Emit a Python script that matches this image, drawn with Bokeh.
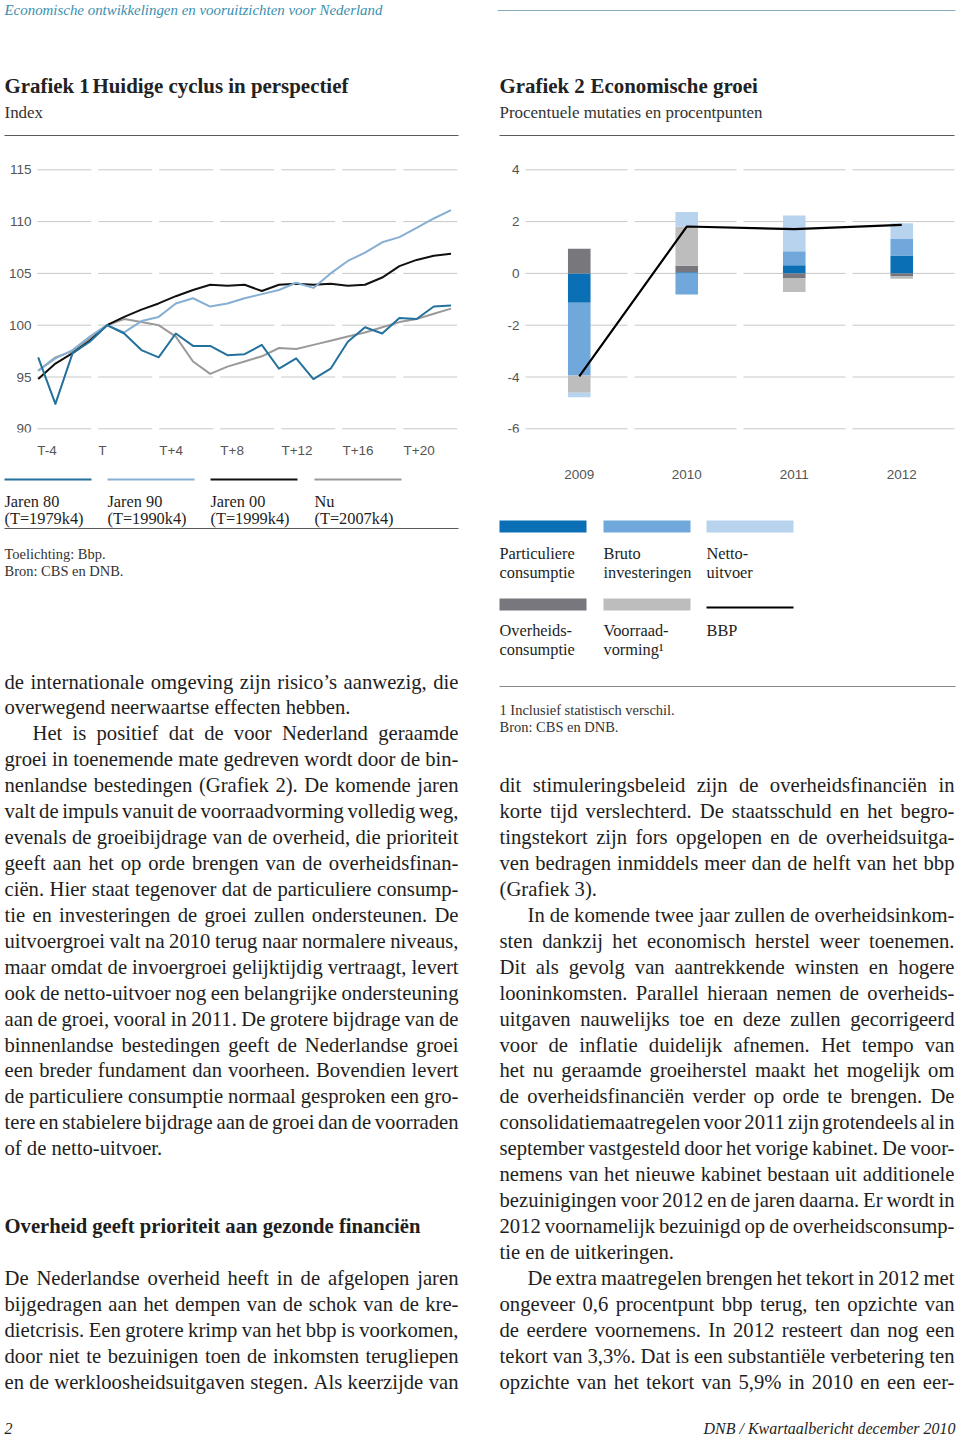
import os
from bokeh.plotting import figure
from bokeh.layouts import row, column
from bokeh.models import Range1d, FixedTicker
from bokeh.core.properties import value
from bokeh.embed import file_html
from bokeh.resources import INLINE

# ---------------------------------------------------------------- data
quarters = list(range(-4, 21))
x_tick_labels_1 = ["T-4", "T", "T+4", "T+8", "T+12", "T+16", "T+20"]
y_ticks_1 = [90, 95, 100, 105, 110, 115]

jaren80 = [96.9, 92.4, 97.3, 98.4, 100.0, 99.2, 97.6, 96.9, 99.2, 98.0, 98.0, 97.1, 97.2,
           98.1, 95.8, 96.8, 94.8, 95.8, 98.4, 99.8, 99.2, 100.7, 100.6, 101.8, 101.9]
jaren90 = [95.6, 96.8, 97.6, 98.9, 100.0, 99.3, 100.4, 100.8, 102.1, 102.6, 101.8, 102.1, 102.6,
           103.0, 103.4, 104.1, 103.6, 105.0, 106.2, 107.0, 108.0, 108.5, 109.4, 110.3, 111.1]
jaren00 = [94.8, 96.3, 97.3, 98.5, 100.0, 100.8, 101.5, 102.1, 102.8, 103.4, 103.9, 103.8, 103.9,
           103.3, 103.9, 104.0, 103.9, 104.0, 103.8, 103.9, 104.6, 105.7, 106.3, 106.7, 106.9]
nu = [95.6, 96.9, 97.5, 98.7, 100.0, 100.6, 100.3, 100.0, 98.9, 96.5, 95.3, 96.0, 96.5,
      97.0, 97.8, 97.7, 98.1, 98.5, 98.9, 99.3, 99.8, 100.3, 100.6, 101.1, 101.6]
series_names_1 = ["Jaren 80", "Jaren 90", "Jaren 00", "Nu"]
series_periods_1 = ["(T=1979k4)", "(T=1990k4)", "(T=1999k4)", "(T=2007k4)"]

years = ["2009", "2010", "2011", "2012"]
part_cons = [-1.13, 0.04, 0.31, 0.69]
bruto_inv = [-2.81, -0.81, 0.55, 0.64]
overh_cons = [0.95, 0.26, -0.18, -0.12]
voorraad = [-0.67, 1.50, -0.54, -0.09]
netto_uitv = [-0.17, 0.57, 1.38, 0.61]
bbp = [-3.98, 1.81, 1.71, 1.87]
y_ticks_2 = [-6, -4, -2, 0, 2, 4]
legend_labels_2 = [["Particuliere", "consumptie"], ["Bruto", "investeringen"], ["Netto-", "uitvoer"],
                   ["Overheids-", "consumptie"], ["Voorraad-", "vorming\u00b9"], ["BBP", ""]]

header_text = "Economische ontwikkelingen en vooruitzichten voor Nederland"
title1 = ["Grafiek 1", "Huidige cyclus in perspectief"]
subtitle1 = "Index"
title2 = ["Grafiek 2", "Economische groei"]
subtitle2 = "Procentuele mutaties en procentpunten"
notes1 = ["Toelichting: Bbp.", "Bron: CBS en DNB."]
notes2 = ["1 Inclusief statistisch verschil.", "Bron: CBS en DNB."]
heading_left = "Overheid geeft prioriteit aan gezonde financi\u00ebn"
footer_left = "2"
footer_right = "DNB / Kwartaalbericht december 2010"

# (first line index, indented, ends paragraph, lines)
left_paras = [
    (0, False, True, [
        "de internationale omgeving zijn risico\u2019s aanwezig, die",
        "overwegend neerwaartse effecten hebben."]),
    (2, True, True, [
        "Het is positief dat de voor Nederland geraamde",
        "groei in toenemende mate gedreven wordt door de bin-",
        "nenlandse bestedingen (Grafiek 2). De komende jaren",
        "valt de impuls vanuit de voorraadvorming volledig weg,",
        "evenals de groeibijdrage van de overheid, die prioriteit",
        "geeft aan het op orde brengen van de overheidsfinan-",
        "ci\u00ebn. Hier staat tegenover dat de particuliere consump-",
        "tie en investeringen de groei zullen ondersteunen. De",
        "uitvoergroei valt na 2010 terug naar normalere niveaus,",
        "maar omdat de invoergroei gelijktijdig vertraagt, levert",
        "ook de netto-uitvoer nog een belangrijke ondersteuning",
        "aan de groei, vooral in 2011. De grotere bijdrage van de",
        "binnenlandse bestedingen geeft de Nederlandse groei",
        "een breder fundament dan voorheen. Bovendien levert",
        "de particuliere consumptie normaal gesproken een gro-",
        "tere en stabielere bijdrage aan de groei dan de voorraden",
        "of de netto-uitvoer."]),
    (23, False, False, [
        "De Nederlandse overheid heeft in de afgelopen jaren",
        "bijgedragen aan het dempen van de schok van de kre-",
        "dietcrisis. Een grotere krimp van het bbp is voorkomen,",
        "door niet te bezuinigen toen de inkomsten terugliepen",
        "en de werkloosheidsuitgaven stegen. Als keerzijde van"]),
]
right_paras = [
    (4, False, True, [
        "dit stimuleringsbeleid zijn de overheidsfinanci\u00ebn in",
        "korte tijd verslechterd. De staatsschuld en het begro-",
        "tingstekort zijn fors opgelopen en de overheidsuitga-",
        "ven bedragen inmiddels meer dan de helft van het bbp",
        "(Grafiek 3)."]),
    (9, True, True, [
        "In de komende twee jaar zullen de overheidsinkom-",
        "sten dankzij het economisch herstel weer toenemen.",
        "Dit als gevolg van aantrekkende winsten en hogere",
        "looninkomsten. Parallel hieraan nemen de overheids-",
        "uitgaven nauwelijks toe en deze zullen gecorrigeerd",
        "voor de inflatie duidelijk afnemen. Het tempo van",
        "het nu geraamde groeiherstel maakt het mogelijk om",
        "de overheidsfinanci\u00ebn verder op orde te brengen. De",
        "consolidatiemaatregelen voor 2011 zijn grotendeels al in",
        "september vastgesteld door het vorige kabinet. De voor-",
        "nemens van het nieuwe kabinet bestaan uit additionele",
        "bezuinigingen voor 2012 en de jaren daarna. Er wordt in",
        "2012 voornamelijk bezuinigd op de overheidsconsump-",
        "tie en de uitkeringen."]),
    (23, True, False, [
        "De extra maatregelen brengen het tekort in 2012 met",
        "ongeveer 0,6 procentpunt bbp terug, ten opzichte van",
        "de eerdere voornemens. In 2012 resteert dan nog een",
        "tekort van 3,3%. Dat is een substanti\u00eble verbetering ten",
        "opzichte van het tekort van 5,9% in 2010 en een eer-"]),
]

# ---------------------------------------------------------------- styles
SERIF = "Liberation Serif"
SANS = "Liberation Sans"
C_TEXT = "#1e1e1e"
C_TICK = "#555555"
C_GRID = "#c8c8c8"
C_RULE = "#5a5a5a"
C_HEADER = "#3a8fae"
C_80, C_90, C_00, C_NU = "#23719c", "#86afd3", "#111111", "#9a9a9a"
C_PC, C_BI, C_NE, C_OC, C_VV = "#0b6fb6", "#70a8db", "#b7d3ee", "#77777d", "#bdbdbd"

FONT_FILES = {
    "serif": "LiberationSerif-Regular.ttf",
    "serif_bold": "LiberationSerif-Bold.ttf",
    "serif_italic": "LiberationSerif-Italic.ttf",
    "sans": "LiberationSans-Regular.ttf",
}
STYLE_FONT = {"serif": (SERIF, "normal"), "serif_bold": (SERIF, "bold"),
              "serif_italic": (SERIF, "italic"), "sans": (SANS, "normal")}
FALLBACK = {"serif": 0.44, "serif_bold": 0.48, "serif_italic": 0.41, "sans": 0.52}


def _find(fname):
    for d in ["/usr/share/fonts", "/usr/local/share/fonts",
              os.path.expanduser("~/.fonts"), os.path.expanduser("~/.local/share/fonts")]:
        if os.path.isdir(d):
            for root, _, files in os.walk(d):
                if fname in files:
                    return os.path.join(root, fname)
    return None


_fonts = {}
try:
    from PIL import ImageFont
    for _k, _f in FONT_FILES.items():
        _p = _find(_f)
        if _p:
            _fonts[_k] = ImageFont.truetype(_p, 200)
except Exception:
    pass


def w1(text, style):
    f = _fonts.get(style)
    if f is not None:
        try:
            return f.getlength(text) / 200.0
        except Exception:
            pass
    return FALLBACK[style] * len(text)


def fit(text, width, style):
    return width / w1(text, style)


SZ_TITLE = fit(title1[1], 256, "serif_bold")
SZ_SUB = fit(subtitle2, 263, "serif")
SZ_HEADER = fit(header_text, 378, "serif_italic")
SZ_FOOT = fit(footer_right, 252, "serif_italic")
SZ_LEG = fit("investeringen", 88, "serif")
SZ_NOTE = fit(notes1[1], 119, "serif")
SZ_HEAD = fit(heading_left, 416, "serif_bold")
SZ_TICK = 13.5

COL_W = 454.0
_est = [fit("overwegend neerwaartse effecten hebben.", 344, "serif"),
        fit("of de netto-uitvoer.", 161, "serif"),
        fit("tie en de uitkeringen.", 175, "serif")]
SZ_BODY = sum(_est) / len(_est)
for _paras in (left_paras, right_paras):
    for _s, _ind, _end, _lines in _paras:
        for _i, _ln in enumerate(_lines):
            if _end and _i == len(_lines) - 1:
                continue
            _avail = COL_W - (28 if (_ind and _i == 0) else 0)
            SZ_BODY = min(SZ_BODY, 1.03 * _avail / w1(_ln, "serif"))

LINE0 = 681.0
LINE_H = 25.93


def make_panel(x0, x1, y0, y1):
    p = figure(width=int(round(x1 - x0)), height=int(round(y1 - y0)),
               x_range=Range1d(x0, x1), y_range=Range1d(y1, y0),
               toolbar_location=None, output_backend="svg", title=None,
               x_axis_location=None, y_axis_location=None, min_border=0)
    p.outline_line_color = None
    p.background_fill_color = "white"
    p.border_fill_color = "white"
    p.grid.visible = False
    return p


def put_text(p, xs, ys, texts, style, size, color, align="left", baseline="middle"):
    font, fstyle = STYLE_FONT[style]
    p.text(x=xs, y=ys, text=texts, text_font=value(font), text_font_style=value(fstyle),
           text_font_size=value(f"{size:.2f}px"), text_color=color,
           text_align=value(align), text_baseline=value(baseline))


def rule(p, x0, x1, y, color=C_RULE, width=1.0):
    p.segment(x0=[x0], y0=[y], x1=[x1], y1=[y], line_color=color, line_width=width)


def render_body(p, paras, x_left, x_right, size, color):
    L = {"x": [], "y": [], "t": []}
    R = {"x": [], "y": [], "t": []}
    for start, indent, ends, lines in paras:
        for i, line in enumerate(lines):
            y = LINE0 + LINE_H * (start + i)
            xl = x_left + (28 if (indent and i == 0) else 0)
            last = ends and i == len(lines) - 1
            words = line.split(" ")
            if last or len(words) == 1:
                L["x"].append(xl); L["y"].append(y); L["t"].append(line)
                continue
            widths = [w1(w, "serif") * size for w in words]
            gap = (x_right - xl - sum(widths)) / (len(words) - 1)
            x = xl
            for j, (w, wd) in enumerate(zip(words, widths)):
                if j == len(words) - 1:
                    R["x"].append(x_right); R["y"].append(y); R["t"].append(w)
                else:
                    L["x"].append(x); L["y"].append(y); L["t"].append(w)
                x += wd + gap
    put_text(p, L["x"], L["y"], L["t"], "serif", size, color, "left")
    put_text(p, R["x"], R["y"], R["t"], "serif", size, color, "right")


def style_xaxis(p, standoff):
    ax = p.xaxis[0]
    ax.axis_line_color = None
    ax.major_tick_line_color = None
    ax.minor_tick_line_color = None
    ax.major_tick_in = 0
    ax.major_tick_out = 0
    ax.major_label_text_font = SANS
    ax.major_label_text_font_size = f"{SZ_TICK}px"
    ax.major_label_text_color = C_TICK
    ax.major_label_standoff = standoff
    p.grid.visible = False


# page layout (body margin is 0): left column page x 0..478, right column 478..958
PAGE_H = 1436

# ================================================================ LEFT COLUMN
L1 = make_panel(0, 478, 0, 150)
put_text(L1, [4], [9], [header_text], "serif_italic", SZ_HEADER, C_HEADER)
put_text(L1, [4], [85], [title1[0]], "serif_bold", SZ_TITLE, "#222222")
put_text(L1, [92], [85], [title1[1]], "serif_bold", SZ_TITLE, "#222222")
put_text(L1, [4], [112], [subtitle1], "serif", SZ_SUB, "#333333")
rule(L1, 4, 458, 135)

# chart 1 : plot region page x 36.7..458, page y 160..432
PXQ = 17.2          # px per quarter
X0PX = 37.7         # page x of first quarter
PXU1 = 10.36        # px per index point
C1_X0, C1_X1, C1_TOP, C1_BOT = 0.0, 478.0, 160.0, 432.0


def q_of(px):
    return quarters[0] + (px - X0PX) / PXQ


y1_start = y_ticks_1[0] - (C1_BOT - 428.3) / PXU1
y1_end = y1_start + (C1_BOT - C1_TOP) / PXU1

c1 = figure(width=int(C1_X1 - C1_X0), height=312, x_range=Range1d(q_of(C1_X0), q_of(C1_X1)),
            y_range=Range1d(y1_start, y1_end), toolbar_location=None,
            output_backend="svg", title=None, min_border=0, y_axis_location=None,
            min_border_top=int(C1_TOP - 150), min_border_bottom=int(462 - C1_BOT))
c1.outline_line_color = None
c1.background_fill_color = "white"
c1.border_fill_color = "white"

seg_w = 61.05
tick_pos_1 = []
for k, lab in enumerate(x_tick_labels_1):
    left_px = 36.7 + seg_w * k
    center_px = left_px + w1(lab, "sans") * SZ_TICK / 2.0
    tick_pos_1.append(round(q_of(center_px), 3))
c1.xaxis[0].ticker = FixedTicker(ticks=tick_pos_1)
c1.xaxis[0].major_label_overrides = {t: l for t, l in zip(tick_pos_1, x_tick_labels_1)}
style_xaxis(c1, 10)

# dashed horizontal gridlines + y tick labels
n1 = len(y_ticks_1)
c1.segment(x0=[q_of(36.7)] * n1, x1=[q_of(458.0)] * n1, y0=y_ticks_1, y1=y_ticks_1,
           line_color=C_GRID, line_width=1, line_dash="54 7")
put_text(c1, [q_of(31.0)] * n1, y_ticks_1, [str(v) for v in y_ticks_1], "sans", SZ_TICK,
         C_TICK, "right", "alphabetic")

for ys, col in ((nu, C_NU), (jaren00, C_00), (jaren90, C_90), (jaren80, C_80)):
    c1.line(quarters, ys, line_color=col, line_width=2, line_join="round")

L3 = make_panel(0, 478, 462, PAGE_H)
leg_x1 = [4, 107, 210, 314]
leg_cols1 = [C_80, C_90, C_00, C_NU]
L3.segment(x0=leg_x1, y0=[479] * 4, x1=[x + 87 for x in leg_x1], y1=[479] * 4,
           line_color=leg_cols1, line_width=2.2)
put_text(L3, leg_x1, [501] * 4, series_names_1, "serif", SZ_LEG, C_TEXT)
put_text(L3, leg_x1, [518] * 4, series_periods_1, "serif", SZ_LEG, C_TEXT)
rule(L3, 4, 458, 528)
put_text(L3, [4, 4], [553, 570], notes1, "serif", SZ_NOTE, "#333333")
render_body(L3, left_paras, 4, 458, SZ_BODY, C_TEXT)
put_text(L3, [4], [LINE0 + LINE_H * 21], [heading_left], "serif_bold", SZ_HEAD, C_TEXT)
put_text(L3, [4], [1428], [footer_left], "serif_italic", SZ_FOOT, C_TEXT)

# ================================================================ RIGHT COLUMN
R1 = make_panel(478, 958, 0, 150)
rule(R1, 497, 955, 10, color="#86adbd")
put_text(R1, [499], [85], [title2[0]], "serif_bold", SZ_TITLE, "#222222")
put_text(R1, [590], [85], [title2[1]], "serif_bold", SZ_TITLE, "#222222")
put_text(R1, [499], [112], [subtitle2], "serif", SZ_SUB, "#333333")
rule(R1, 499, 954, 135)

# chart 2 : plot region page x 525..955, page y 160..432
PXU2 = 25.9
PXC = 107.5         # px per year category
CAT0PX = 578.75     # page x of the first category
C2_X0, C2_X1, C2_TOP, C2_BOT = 478.0, 958.0, 160.0, 432.0


def c_of(px):
    return (px - CAT0PX) / PXC


y2_start = y_ticks_2[0] - (C2_BOT - 428.3) / PXU2
y2_end = y2_start + (C2_BOT - C2_TOP) / PXU2
xs2 = list(range(len(years)))

c2 = figure(width=int(C2_X1 - C2_X0), height=340, x_range=Range1d(c_of(C2_X0), c_of(C2_X1)),
            y_range=Range1d(y2_start, y2_end), toolbar_location=None,
            output_backend="svg", title=None, min_border=0, y_axis_location=None,
            min_border_top=int(C2_TOP - 150), min_border_bottom=int(490 - C2_BOT))
c2.outline_line_color = None
c2.background_fill_color = "white"
c2.border_fill_color = "white"
c2.xaxis[0].ticker = FixedTicker(ticks=xs2)
c2.xaxis[0].major_label_overrides = {i: y for i, y in zip(xs2, years)}
style_xaxis(c2, 37)

n2 = len(y_ticks_2)
c2.segment(x0=[c_of(525.0)] * n2, x1=[c_of(954.0)] * n2, y0=y_ticks_2, y1=y_ticks_2,
           line_color=C_GRID, line_width=1, line_dash="102 7")
put_text(c2, [c_of(519.0)] * n2, y_ticks_2, [str(v) for v in y_ticks_2], "sans", SZ_TICK,
         C_TICK, "right", "alphabetic")

components = [(part_cons, C_PC), (bruto_inv, C_BI), (overh_cons, C_OC),
              (voorraad, C_VV), (netto_uitv, C_NE)]
pos = [0.0] * len(years)
neg = [0.0] * len(years)
for vals, col in components:
    bottoms, tops = [], []
    for i, v in enumerate(vals):
        if v >= 0:
            b = pos[i]; t = b + v; pos[i] = t
        else:
            t = neg[i]; b = t + v; neg[i] = b
        bottoms.append(b); tops.append(t)
    c2.vbar(x=xs2, width=0.21, bottom=bottoms, top=tops, fill_color=col, line_color=None)
c2.line(xs2, bbp, line_color="black", line_width=2.2, line_join="round")

R3 = make_panel(478, 958, 490, PAGE_H)
sw_x = [499, 603, 706]
R3.quad(left=sw_x, right=[x + 87 for x in sw_x], top=[520] * 3, bottom=[532] * 3,
        fill_color=[C_PC, C_BI, C_NE], line_color=None)
R3.quad(left=sw_x[:2], right=[x + 87 for x in sw_x[:2]], top=[598] * 2, bottom=[610] * 2,
        fill_color=[C_OC, C_VV], line_color=None)
R3.segment(x0=[706], y0=[607], x1=[793], y1=[607], line_color="black", line_width=2.2)
put_text(R3, sw_x, [553] * 3, [l[0] for l in legend_labels_2[:3]], "serif", SZ_LEG, C_TEXT)
put_text(R3, sw_x, [572] * 3, [l[1] for l in legend_labels_2[:3]], "serif", SZ_LEG, C_TEXT)
put_text(R3, sw_x, [630] * 3, [l[0] for l in legend_labels_2[3:]], "serif", SZ_LEG, C_TEXT)
put_text(R3, sw_x, [649] * 3, [l[1] for l in legend_labels_2[3:]], "serif", SZ_LEG, C_TEXT)
rule(R3, 499, 955, 686, color="#8a8a8a")
put_text(R3, [499, 499], [709, 726], notes2, "serif", SZ_NOTE, "#333333")
render_body(R3, right_paras, 499, 954, SZ_BODY, C_TEXT)
put_text(R3, [955], [1428], [footer_right], "serif_italic", SZ_FOOT, C_TEXT, "right")

page = row(column(L1, c1, L3), column(R1, c2, R3))

with open("out.html", "w") as fh:
    fh.write(file_html(page, INLINE))
